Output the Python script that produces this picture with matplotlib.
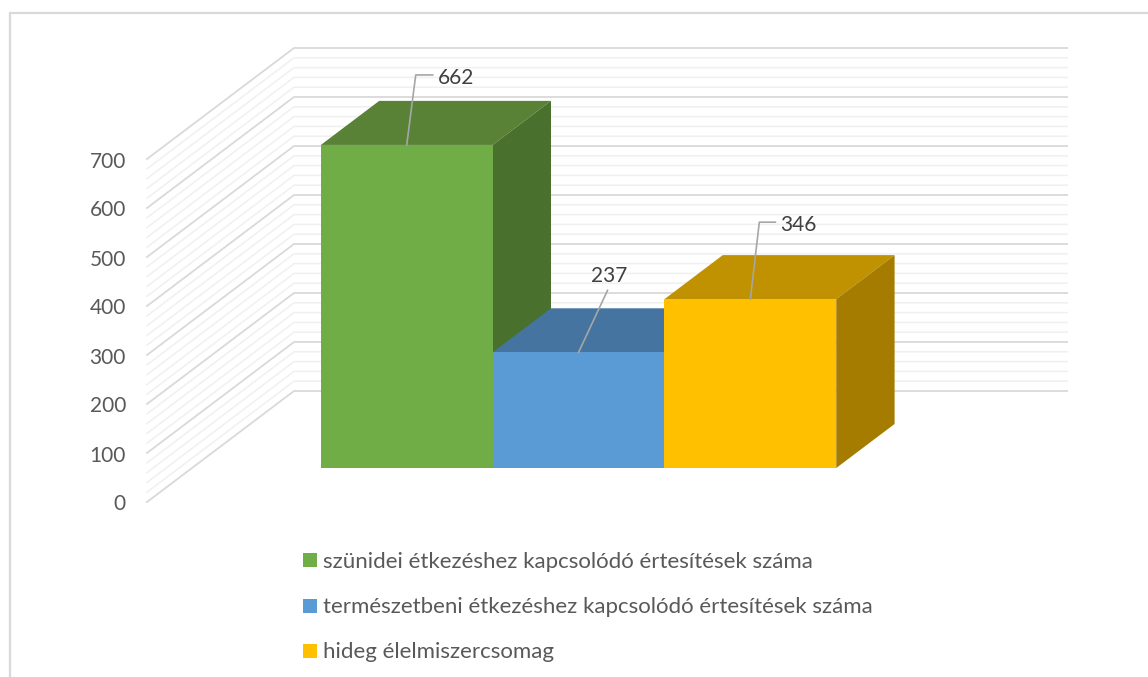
import matplotlib
matplotlib.use('Agg')
from matplotlib import pyplot as plt
from matplotlib.patches import Polygon, Rectangle

plt.rcParams['font.family'] = ['Lato', 'DejaVu Sans']

series_names = ["szünidei étkezéshez kapcsolódó értesítések száma",
                "természetbeni étkezéshez kapcsolódó értesítések száma",
                "hideg élelmiszercsomag"]
series_values = [662, 237, 346]
y_ticks = [0, 100, 200, 300, 400, 500, 600, 700]
minor_step = 20

front_colors = ["#70AD47", "#5B9BD5", "#FFC000"]
top_colors = ["#5A8237", "#44749F", "#C09100"]
side_colors = ["#49702C", "#3A6389", "#A67C00"]

TEXT = "#595959"
W, H = 1148, 677
UNIT_X = 171.8       # px per category slot
UNIT_Y = 0.49        # px per value unit on the walls
BAR_Y = 0.996        # bars come out a touch shorter than the walls
ORIGIN = (147, 502)  # front end of the floor line, in px
DEPTH_X = 147 / UNIT_X
DEPTH_Y = 111 / UNIT_Y
GAP = 0.75
BAR_DEPTH = (0.306, 0.703)
X_SPAN = 4.5


def proj(x, v, d):
    # oblique projection: d=0 front of the wall, d=1 back wall
    return x + d * DEPTH_X, v + d * DEPTH_Y


fig = plt.figure(figsize=(W / 100, H / 100), dpi=100)
ax = fig.add_axes([0, 0, 1, 1])
ax.set_xlim(-ORIGIN[0] / UNIT_X, (W - ORIGIN[0]) / UNIT_X)
ax.set_ylim(-(H - ORIGIN[1]) / UNIT_Y, ORIGIN[1] / UNIT_Y)
ax.axis('off')
xmin, xmax = ax.get_xlim()
ymin, ymax = ax.get_ylim()

# outer frame of the pasted chart, only left and top show
frame_left = xmin + 10 / UNIT_X
frame_top = ymax - 13 / UNIT_Y
ax.plot([frame_left, frame_left, xmax], [ymin, frame_top, frame_top],
        color="#d9d9d9", lw=1.6, solid_joinstyle='miter')

# walls
for v in range(y_ticks[0], y_ticks[-1] + 1, minor_step):
    major = v in y_ticks
    xs, ys = zip(proj(0, v, 0), proj(0, v, 1), proj(X_SPAN, v, 1))
    ax.plot(xs, ys, color="#d9d9d9" if major else "#f0f0f0", lw=1.3 if major else 1.1,
            zorder=1 if not major else 1.5)

for v in y_ticks:
    ax.text(-21 / UNIT_X, v - 2.5 / UNIT_Y, str(v), color=TEXT,
            fontsize=15, ha='right', va='center')

# bars, later ones overlap the earlier ones
d0, d1 = BAR_DEPTH
for i, val in enumerate(series_values):
    x0, x1 = GAP + i, GAP + i + 1
    top = val * BAR_Y
    ax.add_patch(Polygon([proj(x0, top, d0), proj(x1, top, d0), proj(x1, top, d1), proj(x0, top, d1)],
                         fc=top_colors[i], ec='none', zorder=2 + i))
    ax.add_patch(Polygon([proj(x1, 0, d0), proj(x1, top, d0), proj(x1, top, d1), proj(x1, 0, d1)],
                         fc=side_colors[i], ec='none', zorder=2 + i))
    ax.add_patch(Polygon([proj(x0, 0, d0), proj(x1, 0, d0), proj(x1, top, d0), proj(x0, top, d0)],
                         fc=front_colors[i], ec='none', zorder=2 + i))

# data labels with leader lines (offsets from top centre of the bar, in px)
leader_offsets = [[(9, 70), (26, 70)], [(29, 62)], [(9, 77), (25, 77)]]
label_offsets = [(49, 66.5), (31, 76), (48, 74.5)]
for i, val in enumerate(series_values):
    bx, by = proj(GAP + i + 0.5, val * BAR_Y, d0)
    pts = [(bx, by)] + [(bx + dx / UNIT_X, by + dy / UNIT_Y) for dx, dy in leader_offsets[i]]
    ax.plot(*zip(*pts), color="#a6a6a6", lw=1.2, zorder=8)
    lx, ly = label_offsets[i]
    ax.text(bx + lx / UNIT_X, by + ly / UNIT_Y, str(val), color="#404040", fontsize=15,
            ha='center', va='center', zorder=9)

# legend
legend_y = [560.5, 606, 650.5]
for name, col, py in zip(series_names, front_colors, legend_y):
    ax.add_patch(Rectangle((xmin + 303 / UNIT_X, ymax - (py + 7) / UNIT_Y), 14 / UNIT_X, 14 / UNIT_Y,
                           fc=col, ec='none'))
    ax.text(xmin + 323 / UNIT_X, ymax - (py + 1) / UNIT_Y, name, color=TEXT, fontsize=16, va='center')

fig.savefig("out.png", dpi=100)
